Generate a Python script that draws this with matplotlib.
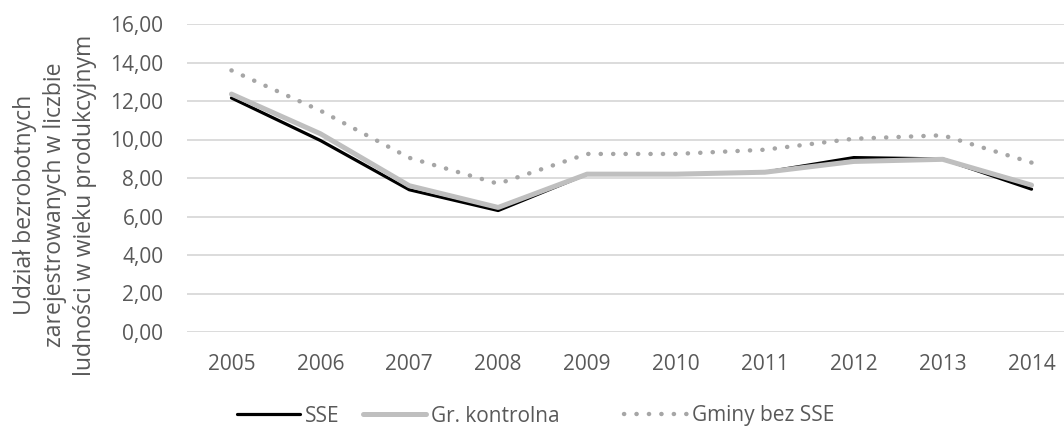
import matplotlib
matplotlib.use("Agg")
import matplotlib.pyplot as plt
from matplotlib.ticker import FuncFormatter

years = ["2005", "2006", "2007", "2008", "2009", "2010", "2011", "2012", "2013", "2014"]
sse = [12.16, 9.95, 7.39, 6.31, 8.20, 8.20, 8.30, 9.06, 8.99, 7.42]
kontrolna = [12.36, 10.30, 7.60, 6.47, 8.20, 8.20, 8.30, 8.86, 8.97, 7.63]
gminy_bez = [13.59, 11.50, 9.05, 7.70, 9.25, 9.25, 9.47, 10.04, 10.22, 8.80]

plt.rcParams["font.family"] = ["Open Sans", "DejaVu Sans"]
txt = "#595959"

fig = plt.figure(figsize=(10.64, 4.26), dpi=100)
ax = fig.add_axes([187 / 1064, 1 - 332 / 426, 889 / 1064, 308 / 426])

x = range(len(years))
l1, = ax.plot(x, sse, color="black", lw=2.3, solid_capstyle="round", label="SSE", zorder=3)
l2, = ax.plot(x, kontrolna, color="#bfbfbf", lw=3.6, solid_capstyle="round", label="Gr. kontrolna", zorder=4)
l3, = ax.plot(x, gminy_bez, color="#a6a6a6", lw=3.2, linestyle=(0, (0.05, 2.75)),
              dash_capstyle="round", label="Gminy bez SSE", zorder=5)

ax.set_xlim(-0.5, len(years) - 0.5)
ax.set_ylim(0, 16)
ax.set_yticks(range(0, 17, 2))
ax.yaxis.set_major_formatter(FuncFormatter(lambda v, p: f"{v:.2f}".replace(".", ",")))
ax.set_xticks(list(x))
ax.set_xticklabels(years)
ax.grid(axis="y", color="#d9d9d9", lw=1.3)
ax.set_axisbelow(True)
for s in ax.spines.values():
    s.set_visible(False)
ax.tick_params(axis="both", length=0, labelsize=15, colors=txt)
ax.tick_params(axis="y", pad=17)
ax.tick_params(axis="x", pad=15.5)

fig.text(55 / 1064, 1 - 205 / 426,
         "Udział bezrobotnych\nzarejestrowanych w liczbie\nludności w wieku produkcyjnym",
         rotation=90, ha="center", va="center", fontsize=16.6, color=txt, linespacing=1.33)

# legend entries placed one by one, like the Excel legend
for line, xl in [(l1, 237), (l2, 363), (l3, 624)]:
    leg = fig.legend(handles=[line], loc="center left", bbox_to_anchor=(xl / 1064, 1 - 416 / 426),
                     frameon=False, fontsize=15, handlelength=3.0, handletextpad=0.25,
                     borderpad=0, borderaxespad=0)
    for t in leg.get_texts():
        t.set_color(txt)

fig.savefig("out.png", dpi=100)
